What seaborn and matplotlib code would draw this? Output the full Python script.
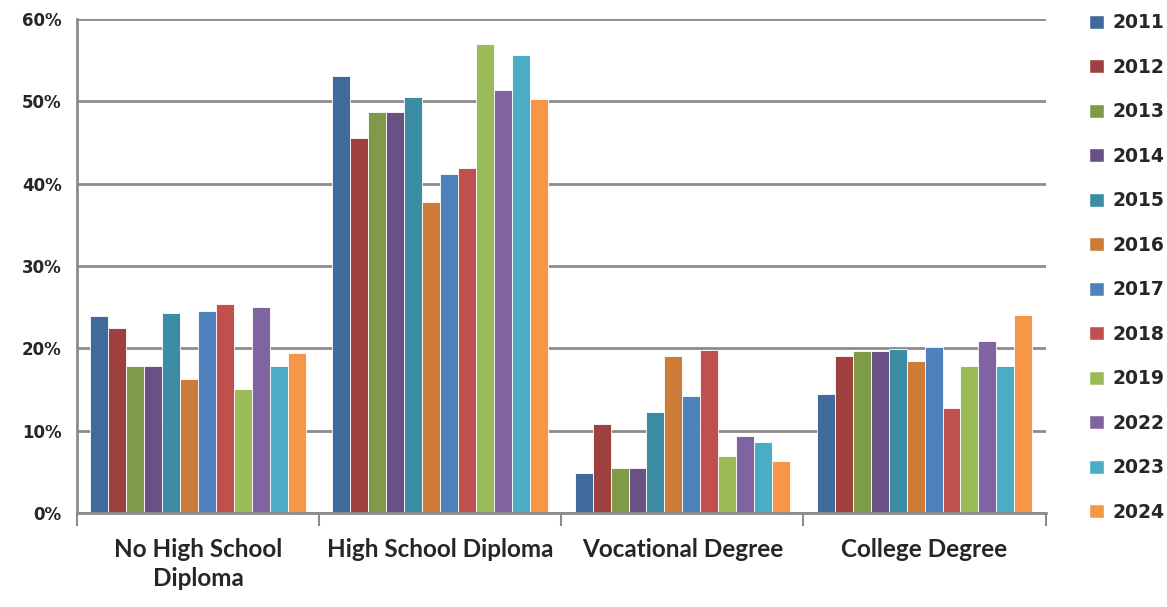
import pandas as pd
import matplotlib.pyplot as plt
import seaborn as sns
from matplotlib.patches import Patch
from matplotlib.ticker import PercentFormatter

# Dados
categories = ['No High School\nDiploma', 'High School Diploma', 'Vocational Degree', 'College Degree']
years = ['2011', '2012', '2013', '2014', '2015', '2016', '2017', '2018', '2019', '2022', '2023', '2024']
colors = ['#40699C', '#9E413E', '#7F9A48', '#695185', '#3C8DA3', '#CC7B38',
          '#4F81BD', '#C0504D', '#9BBB59', '#8064A2', '#4BACC6', '#F79646']

no_hs = [23.9, 22.4, 17.8, 17.8, 24.3, 16.3, 24.5, 25.4, 15.0, 25.0, 17.8, 19.4]
hs_diploma = [53.1, 45.5, 48.7, 48.7, 50.5, 37.7, 41.1, 41.9, 57.0, 51.3, 55.6, 50.3]
vocational = [4.9, 10.8, 5.5, 5.5, 12.2, 19.0, 14.2, 19.8, 6.9, 9.4, 8.6, 6.3]
college = [14.5, 19.0, 19.7, 19.7, 19.9, 18.5, 20.1, 12.8, 17.9, 20.9, 17.8, 24.0]

rows = []
for cat, vals in zip(categories, [no_hs, hs_diploma, vocational, college]):
    for yr, v in zip(years, vals):
        rows.append({'category': cat, 'year': yr, 'value': v})
df = pd.DataFrame(rows)

sns.set_theme(style="white")
plt.rcParams['font.family'] = ['DejaVu Sans']

fig = plt.figure(figsize=(11.67, 6.07), dpi=100)
ax = fig.add_axes([0.066, 0.155, 0.83, 0.814])

sns.barplot(data=df, x='category', y='value', hue='year', palette=colors,
            width=0.89, saturation=1, edgecolor='white', linewidth=0.6,
            legend=False, ax=ax)

grid_col = '#8c8c8c'
ax.set_ylim(0, 60)
ax.set_xlim(-0.5, 3.5)
ax.set_yticks(range(0, 61, 10))
ax.yaxis.set_major_formatter(PercentFormatter(decimals=0))
ax.yaxis.grid(True, color=grid_col, linewidth=2)
ax.set_axisbelow(True)
for s in ['top', 'right']:
    ax.spines[s].set_visible(False)
for s in ['left', 'bottom']:
    ax.spines[s].set_color(grid_col)
    ax.spines[s].set_linewidth(2)

ax.tick_params(axis='y', length=7, width=2, color=grid_col, labelsize=12, pad=4)
for lab in ax.get_yticklabels():
    lab.set_fontweight('bold')

# marcas entre grupos no eixo x
ax.set_xticks([-0.5, 0.5, 1.5, 2.5, 3.5], minor=True)
ax.tick_params(axis='x', which='minor', length=9, width=1.5, color=grid_col, bottom=True)
ax.tick_params(axis='x', which='major', length=0, pad=18)
ax.set_xticks(range(4))
ax.set_xticklabels(categories, fontsize=17.5, fontweight='bold', family='Lato', linespacing=1.3)
ax.set_xlabel('')
ax.set_ylabel('')

handles = [Patch(facecolor=c, edgecolor='white') for c in colors]
fig.legend(handles, years, loc='upper left', bbox_to_anchor=(0.919, 1.006),
           frameon=False, prop={'weight': 'bold', 'size': 13.5},
           handlelength=0.8, handleheight=0.8, handletextpad=0.45, labelspacing=1.36)

fig.savefig('out.png', dpi=100)
